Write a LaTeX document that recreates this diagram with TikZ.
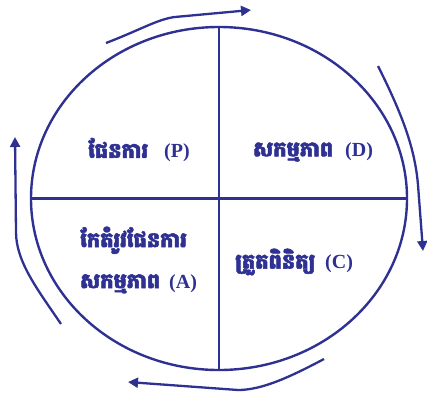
\documentclass[tikz,border=0pt]{standalone}
\usepackage{fontspec}
\setmainfont{Liberation Serif}
\newfontfamily\khmerfont[Script=Khmer,FakeBold=2.5]{Battambang}
\usetikzlibrary{shapes.geometric,arrows.meta}
\definecolor{pdcablue}{HTML}{2E3192}
\tikzset{
  cycline/.style={draw=pdcablue, line width=2.4pt},
  cycarrow/.style={draw=pdcablue, line width=2.3pt, -{Triangle[length=10pt,width=10pt]}},
  phase/.style={text=pdcablue, font=\bfseries\fontsize{20}{24}\selectfont, inner sep=0pt, anchor=west}
}
\newcommand{\kmtext}[1]{{\khmerfont\fontsize{21}{25}\selectfont #1}}

\begin{document}
\begin{tikzpicture}[x=1pt,y=-1pt]
    \useasboundingbox (0,0) rectangle (427,396);
    % the cycle
    \node[ellipse, cycline, minimum width=376pt, minimum height=343pt, inner sep=0pt] (cyc) at (219,198.5) {};
    \draw[cycline] (cyc.north) -- (cyc.south);
    \draw[cycline] (cyc.west) -- (cyc.east);

    % arrows round the cycle
    \draw[cycarrow] (106,43) .. controls (140,30) and (158,19) .. (175,17) -- (251,10);
    \draw[cycarrow] (378,66) .. controls (404,118) and (415,150) .. (418,185) -- (423,251);
    \draw[cycarrow] (324,359) .. controls (290,377) and (262,390) .. (238,390) -- (128,382);
    \draw[cycarrow] (61,324) .. controls (38,290) and (16,262) .. (16,232) -- (15,137);

    % phases
    \node[phase] (plan) at (88,150) {\kmtext{ផែនការ}\hspace{16pt}(P)};
    \node[phase] (do) at (253,152) {\kmtext{សកម្មភាព}\hspace{12pt}(D)};
    \node[phase] (check) at (235,262) {\kmtext{ត្រួតពិនិត្យ}\hspace{10pt}(C)};
    \node[phase, align=left] (act) at (80,260) {\kmtext{កែតំរូវផែនការ}\\[17pt]\kmtext{សកម្មភាព}\hspace{9pt}(A)};
\end{tikzpicture}
\end{document}
